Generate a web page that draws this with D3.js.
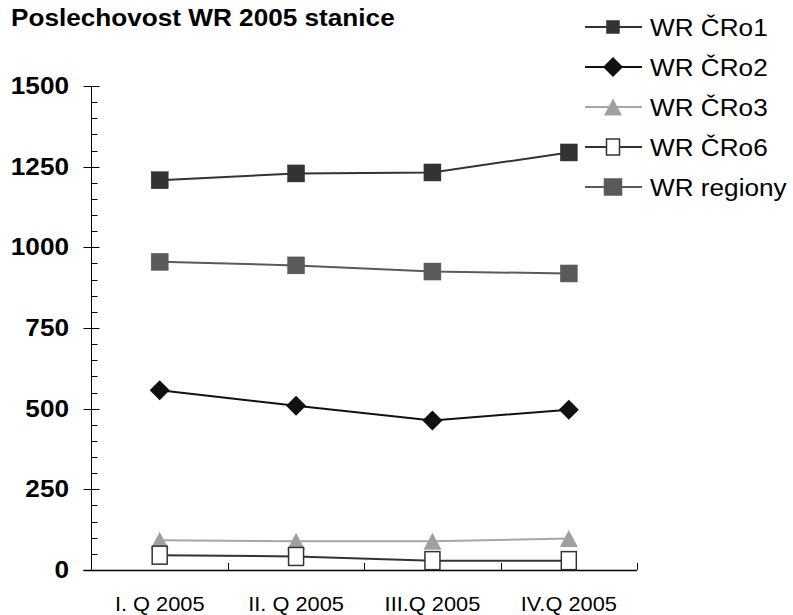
<!DOCTYPE html>
<html><head><meta charset="utf-8">
<script src="https://cdn.jsdelivr.net/npm/d3@7"></script>
<style>body{margin:0;background:#fff}svg{display:block;font-family:"Liberation Sans",Arial,sans-serif}</style>
</head><body><svg id="c" width="793" height="615"></svg>
<script>
const title = "Poslechovost WR 2005 stanice";
const categories = ["I. Q 2005", "II. Q 2005", "III.Q 2005", "IV.Q 2005"];
const seriesNames = ["WR ČRo1", "WR ČRo2", "WR ČRo3", "WR ČRo6", "WR regiony"];
const cro1 = [1208, 1229, 1232, 1294];
const cro2 = [557, 509, 463, 497];
const cro3 = [92, 89, 89, 98];
const cro6 = [46, 42, 29, 29];
const regiony = [955, 944, 925, 919];
const yTicks = [0, 250, 500, 750, 1000, 1250, 1500];

const series = [
  {name: seriesNames[0], values: cro1, line: "#333333", fill: "#333333", stroke: "#333333", shape: "square", w: 17, h: 17, lw: 13, lh: 13},
  {name: seriesNames[1], values: cro2, line: "#111111", fill: "#111111", stroke: "#111111", shape: "diamond", w: 20, h: 20, lw: 20, lh: 20},
  {name: seriesNames[2], values: cro3, line: "#a6a6a6", fill: "#a0a0a0", stroke: "#a0a0a0", shape: "triangle", w: 18, h: 17, lw: 18, lh: 17},
  {name: seriesNames[3], values: cro6, line: "#333333", fill: "#ffffff", stroke: "#333333", shape: "square", w: 15, h: 18, lw: 13, lh: 16},
  {name: seriesNames[4], values: regiony, line: "#5a5a5a", fill: "#5a5a5a", stroke: "#5a5a5a", shape: "square", w: 17, h: 17, lw: 18, lh: 17}
];

const SX = 1.09; // horizontal text stretch seen in the reference
const svg = d3.select("#c");
const x0 = 91.5, x1 = 637, yBottom = 570, yTop = 86;
const x = d3.scaleBand().domain(categories).range([x0, x1]);
const y = d3.scaleLinear().domain([0, 1500]).range([yBottom, yTop]);

function txt(g, tx, ty, s, size, weight, anchor) {
  return g.append("text").attr("transform", `translate(${tx},${ty}) scale(${SX},1)`)
    .attr("font-size", size).attr("font-weight", weight || "normal")
    .attr("text-anchor", anchor || "start").attr("fill", "#000").text(s);
}

txt(svg, 11, 26, title, 24, "bold");

// y axis
const ax = svg.append("g");
ax.append("line").attr("x1", x0).attr("x2", x0).attr("y1", y(1500)).attr("y2", y(0)).attr("stroke", "#000").attr("stroke-width", 1);
d3.range(0, 1501, 50).forEach(v => {
  const major = v % 250 === 0;
  ax.append("line").attr("x1", major ? x0 - 8 : x0).attr("x2", x0 + (major ? 8 : 6))
    .attr("y1", Math.round(y(v)) + 0.5).attr("y2", Math.round(y(v)) + 0.5).attr("stroke", "#000");
});
yTicks.forEach(v => txt(ax, 69, y(v) + 8, v, 24, "bold", "end"));

// x axis
ax.append("line").attr("x1", x0 - 8).attr("x2", x1).attr("y1", yBottom + 0.5).attr("y2", yBottom + 0.5).attr("stroke", "#000").attr("stroke-width", 1.5);
categories.forEach(c => {
  const bx = Math.round(x(c) + x.bandwidth()) + 0.5;
  ax.append("line").attr("x1", bx).attr("x2", bx).attr("y1", yBottom).attr("y2", yBottom - 7).attr("stroke", "#000");
  txt(ax, x(c) + x.bandwidth() / 2, 611, c, 20, "normal", "middle");
});

function marker(g, s, cx, cy, w, h) {
  const hw = w / 2, hh = h / 2;
  if (s.shape === "square") {
    const hollow = s.fill === "#ffffff";
    g.append("rect").attr("x", cx - hw).attr("y", cy - hh).attr("width", w).attr("height", h)
      .attr("fill", s.fill).attr("stroke", s.stroke).attr("stroke-width", hollow ? 1.5 : 0.5);
  } else if (s.shape === "diamond") {
    g.append("path").attr("d", `M${cx},${cy - hh}L${cx + hw},${cy}L${cx},${cy + hh}L${cx - hw},${cy}Z`).attr("fill", s.fill);
  } else {
    g.append("path").attr("d", `M${cx},${cy - hh}L${cx + hw},${cy + hh}L${cx - hw},${cy + hh}Z`).attr("fill", s.fill);
  }
}

const line = d3.line().x((d, i) => x(categories[i]) + x.bandwidth() / 2).y(d => y(d));
series.forEach(s => {
  const g = svg.append("g");
  g.append("path").attr("d", line(s.values)).attr("fill", "none").attr("stroke", s.line).attr("stroke-width", 2);
  s.values.forEach((v, i) => marker(g, s, x(categories[i]) + x.bandwidth() / 2, y(v), s.w, s.h));
});

// legend
const legY = [27, 67, 107, 147, 187];
series.forEach((s, i) => {
  const g = svg.append("g");
  const ly = legY[i];
  g.append("line").attr("x1", 585).attr("x2", 642).attr("y1", ly).attr("y2", ly).attr("stroke", s.line).attr("stroke-width", 2);
  marker(g, s, 613, ly, s.lw, s.lh);
  txt(g, 650, ly + 9, s.name, 24, "normal");
});
</script></body></html>
